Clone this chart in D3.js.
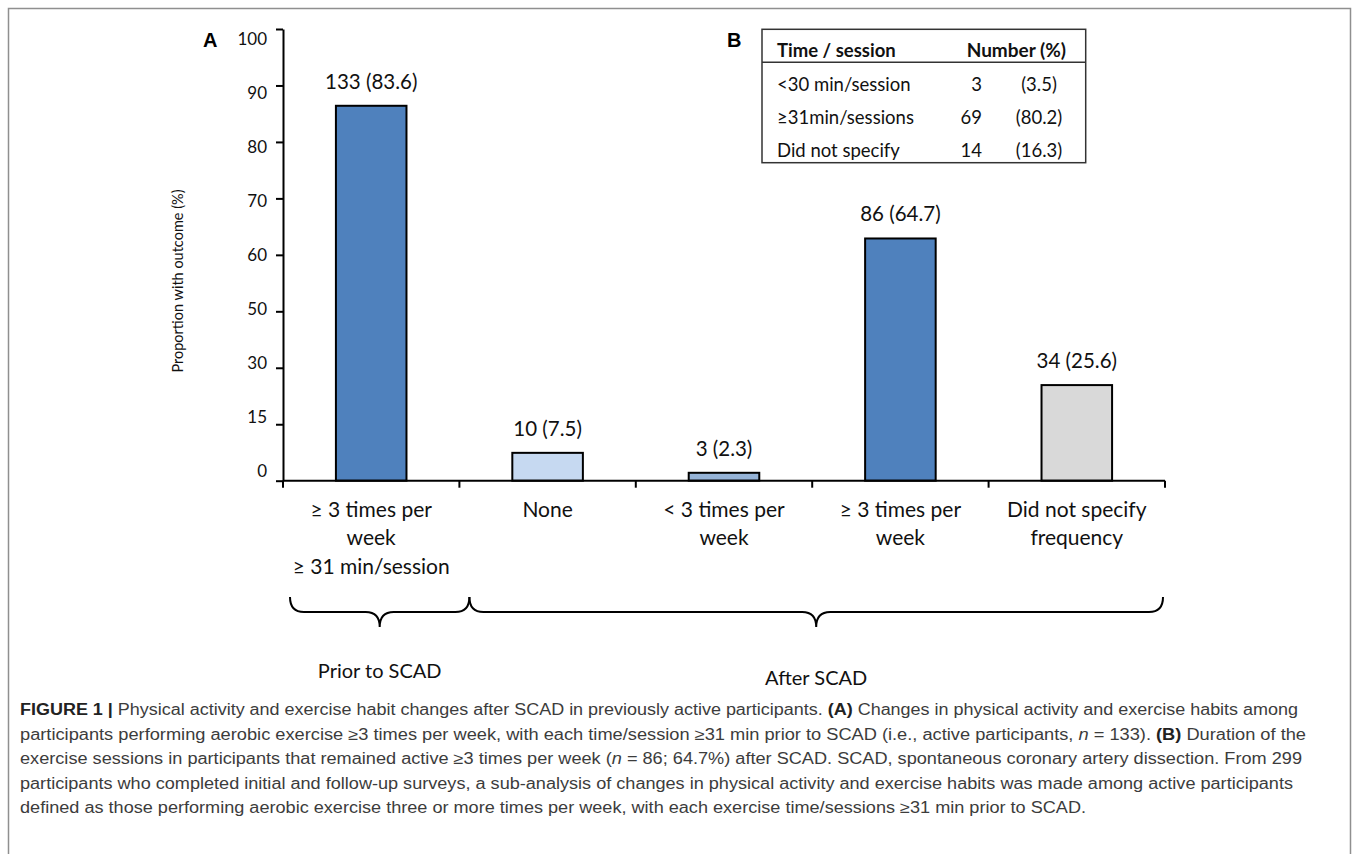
<!DOCTYPE html>
<html>
<head>
<meta charset="utf-8">
<script src="https://cdn.jsdelivr.net/npm/d3@7"></script>
<style>
	body { margin: 0; background: #fff; }
	svg { display: block; }
	.lbl { font-family: Lato, "Open Sans", sans-serif; fill: #111; }
	.cap { font-family: "Liberation Sans Narrow", "Liberation Sans", Roboto, sans-serif; fill: #3c3c3c; font-size: 16px; }
</style>
</head>
<body>
<svg id="chart" width="1357" height="854"></svg>
<script>
/*
 * Bar chart of exercise frequency before / after SCAD, with a small table (B)
 */

// ---- data ----
const categories = ["≥ 3 times per\nweek\n≥ 31 min/session", "None", "< 3 times per\nweek", "≥ 3 times per\nweek", "Did not specify\nfrequency"];
const counts = [133, 10, 3, 86, 34];
const percents = ["83.6", "7.5", "2.3", "64.7", "25.6"];
// bar tops as they are drawn against the (hand-labelled) y axis
const plotted = [86.4, 7.4, 2.1, 62.9, 25.4];
const yTickLabels = [0, 15, 30, 50, 60, 70, 80, 90, 100];
const periods = [
	{ name: "Prior to SCAD", first: 0, last: 0 },
	{ name: "After SCAD", first: 1, last: 4 }
];
const tableHeader = ["Time / session", "Number (%)"];
const tableRows = ["<30 min/session", "≥31min/sessions", "Did not specify"];
const tableNumbers = [3, 69, 14];
const tablePercents = ["3.5", "80.2", "16.3"];

// ---- styles ----
const barFills = ["#4F81BD", "#C6D9F1", "#95B3D7", "#4F81BD", "#D9D9D9"];

const svg = d3.select("#chart");

// frame round the figure
svg.append("path")
	.attr("d", "M8.5,870 V8.5 H1350.5 V870")
	.attr("fill", "none")
	.attr("stroke", "#8f8f8f")
	.attr("stroke-width", 1.5);

const plot = { left: 283, right: 1165, top: 29, bottom: 480.7 };

// x: one band per category, bars 40% of the step
const x = d3.scaleBand()
	.domain(d3.range(categories.length))
	.range([plot.left, plot.right])
	.paddingInner(0.6)
	.paddingOuter(0.3);

// y: ticks are evenly spaced although their labels are not
const yStep = (plot.bottom - plot.top) / (yTickLabels.length - 1);
const y = d3.scaleLinear()
	.domain(yTickLabels)
	.range(yTickLabels.map((d, i) => plot.bottom - i * yStep));

// the tick labels sit in their own, slightly tighter column
const yLabel = d3.scalePoint()
	.domain(yTickLabels)
	.range([471, 39]);

// bars
svg.append("g")
	.selectAll("rect")
	.data(plotted)
	.enter()
	.append("rect")
	.attr("x", (d, i) => x(i))
	.attr("width", x.bandwidth())
	.attr("y", d => y(d))
	.attr("height", d => y(0) - y(d))
	.attr("fill", (d, i) => barFills[i])
	.attr("stroke", "#000")
	.attr("stroke-width", 2);

// value labels
svg.append("g")
	.selectAll("text")
	.data(plotted)
	.enter()
	.append("text")
	.attr("class", "lbl")
	.attr("x", (d, i) => x(i) + x.bandwidth() / 2)
	.attr("y", d => y(d) - 17)
	.attr("text-anchor", "middle")
	.style("font-size", "20.5px")
	.text((d, i) => counts[i] + " (" + percents[i] + ")");

// y axis
const yAxis = svg.append("g")
	.attr("transform", "translate(" + plot.left + ",0)")
	.call(d3.axisLeft(y).tickValues(yTickLabels).tickSize(7).tickSizeOuter(0).tickFormat(""));
yAxis.selectAll("path, line").attr("stroke", "#000").attr("stroke-width", 2);

svg.append("g")
	.selectAll("text")
	.data(yTickLabels)
	.enter()
	.append("text")
	.attr("class", "lbl")
	.attr("x", plot.left - 16)
	.attr("y", d => yLabel(d))
	.attr("dy", "0.35em")
	.attr("text-anchor", "end")
	.style("font-size", "17px")
	.text(d => d);

svg.append("text")
	.attr("class", "lbl")
	.attr("transform", "translate(183," + 281 + ") rotate(-90)")
	.attr("text-anchor", "middle")
	.style("font-size", "14.5px")
	.text("Proportion with outcome (%)");

// x axis with ticks on the band boundaries
const xAxis = svg.append("g")
	.attr("transform", "translate(0," + plot.bottom + ")");
xAxis.append("line")
	.attr("x1", plot.left).attr("x2", plot.right)
	.attr("stroke", "#000").attr("stroke-width", 2);
xAxis.selectAll(".tick")
	.data(d3.range(categories.length + 1))
	.enter()
	.append("line")
	.attr("class", "tick")
	.attr("x1", i => plot.left + i * x.step())
	.attr("x2", i => plot.left + i * x.step())
	.attr("y1", 0).attr("y2", 7)
	.attr("stroke", "#000").attr("stroke-width", 2);

let catLabels = svg.append("g")
	.selectAll("text")
	.data(categories)
	.enter()
	.append("text")
	.attr("class", "lbl")
	.attr("text-anchor", "middle")
	.style("font-size", "21px");

catLabels.each(function(d, i) {
	let t = d3.select(this);
	d.split("\n").forEach((line, j) => {
		t.append("tspan")
			.attr("x", x(i) + x.bandwidth() / 2)
			.attr("y", 516.7 + j * 28.4)
			.text(line);
	});
});

// braces grouping the categories
function bracePath(x0, x1) {
	let yTip = 597, yH = 612, yP = 627, r = 14,
		xm = (x0 + x1) / 2;
	return "M" + x0 + "," + yTip +
		" Q" + x0 + "," + yH + " " + (x0 + r) + "," + yH +
		" L" + (xm - r) + "," + yH +
		" Q" + xm + "," + yH + " " + xm + "," + yP +
		" Q" + xm + "," + yH + " " + (xm + r) + "," + yH +
		" L" + (x1 - r) + "," + yH +
		" Q" + x1 + "," + yH + " " + x1 + "," + yTip;
}

periods.forEach((p, k) => {
	let x0 = k === 0 ? plot.left + 7 : plot.left + p.first * x.step() + 10,
		x1 = p.last === categories.length - 1 ? plot.right - 2 : plot.left + (p.last + 1) * x.step() + 10;

	svg.append("path")
		.attr("d", bracePath(x0, x1))
		.attr("fill", "none")
		.attr("stroke", "#000")
		.attr("stroke-width", 2);

	svg.append("text")
		.attr("class", "lbl")
		.attr("x", (x0 + x1) / 2)
		.attr("y", k === 0 ? 678 : 685)
		.attr("text-anchor", "middle")
		.style("font-size", "20px")
		.text(p.name);
});

// panel letters
svg.append("text").attr("x", 203).attr("y", 47)
	.style("font-family", "Liberation Sans, Arial, sans-serif").style("font-weight", "bold").style("font-size", "20px")
	.text("A");
svg.append("text").attr("x", 727).attr("y", 47)
	.style("font-family", "Liberation Sans, Arial, sans-serif").style("font-weight", "bold").style("font-size", "20px")
	.text("B");

// table B
const tbl = { left: 762, right: 1085.7, top: 29.3, head: 62.3, bottom: 162.7 };
svg.append("rect")
	.attr("x", tbl.left).attr("y", tbl.top)
	.attr("width", tbl.right - tbl.left).attr("height", tbl.bottom - tbl.top)
	.attr("fill", "none").attr("stroke", "#333").attr("stroke-width", 1.5);
svg.append("line")
	.attr("x1", tbl.left).attr("x2", tbl.right)
	.attr("y1", tbl.head).attr("y2", tbl.head)
	.attr("stroke", "#333").attr("stroke-width", 1.5);

svg.append("text").attr("class", "lbl")
	.attr("x", 777).attr("y", 56.7)
	.style("font-size", "18.5px").style("font-weight", "bold")
	.text(tableHeader[0]);
svg.append("text").attr("class", "lbl")
	.attr("x", 1066).attr("y", 56.7)
	.attr("text-anchor", "end")
	.style("font-size", "19px").style("font-weight", "bold")
	.text(tableHeader[1]);

const rowY = d3.scalePoint().domain(d3.range(tableRows.length)).range([90.7, 156.7]);
tableRows.forEach((r, i) => {
	let g = svg.append("g").attr("transform", "translate(0," + rowY(i) + ")");
	g.append("text").attr("class", "lbl").attr("x", 777)
		.style("font-size", "18.5px").text(r);
	g.append("text").attr("class", "lbl").attr("x", 982).attr("text-anchor", "end")
		.style("font-size", "18.5px").text(tableNumbers[i]);
	g.append("text").attr("class", "lbl").attr("x", 1039).attr("text-anchor", "middle")
		.style("font-size", "18.5px").text("(" + tablePercents[i] + ")");
});

// caption
const captionLines = [
	[["FIGURE 1 | ", "b"], ["Physical activity and exercise habit changes after SCAD in previously active participants. "], ["(A)", "b"], [" Changes in physical activity and exercise habits among"]],
	[["participants performing aerobic exercise ≥3 times per week, with each time/session ≥31 min prior to SCAD (i.e., active participants, "], ["n", "i"], [" = 133). "], ["(B)", "b"], [" Duration of the"]],
	[["exercise sessions in participants that remained active ≥3 times per week ("], ["n", "i"], [" = 86; 64.7%) after SCAD. SCAD, spontaneous coronary artery dissection. From 299"]],
	[["participants who completed initial and follow-up surveys, a sub-analysis of changes in physical activity and exercise habits was made among active participants"]],
	[["defined as those performing aerobic exercise three or more times per week, with each exercise time/sessions ≥31 min prior to SCAD."]]
];
const captionEnds = [1298, 1306, 1302, 1293, 1086];

captionLines.forEach((segs, i) => {
	let t = svg.append("text")
		.attr("class", "cap")
		.attr("x", 20)
		.attr("y", 715 + i * 24.5)
		.attr("textLength", captionEnds[i] - 20)
		.attr("lengthAdjust", "spacingAndGlyphs");
	segs.forEach(s => {
		let ts = t.append("tspan").text(s[0]);
		if (s[1] === "b") ts.style("font-weight", "bold").style("fill", "#222");
		if (s[1] === "i") ts.style("font-style", "italic");
	});
});
</script>
</body>
</html>
